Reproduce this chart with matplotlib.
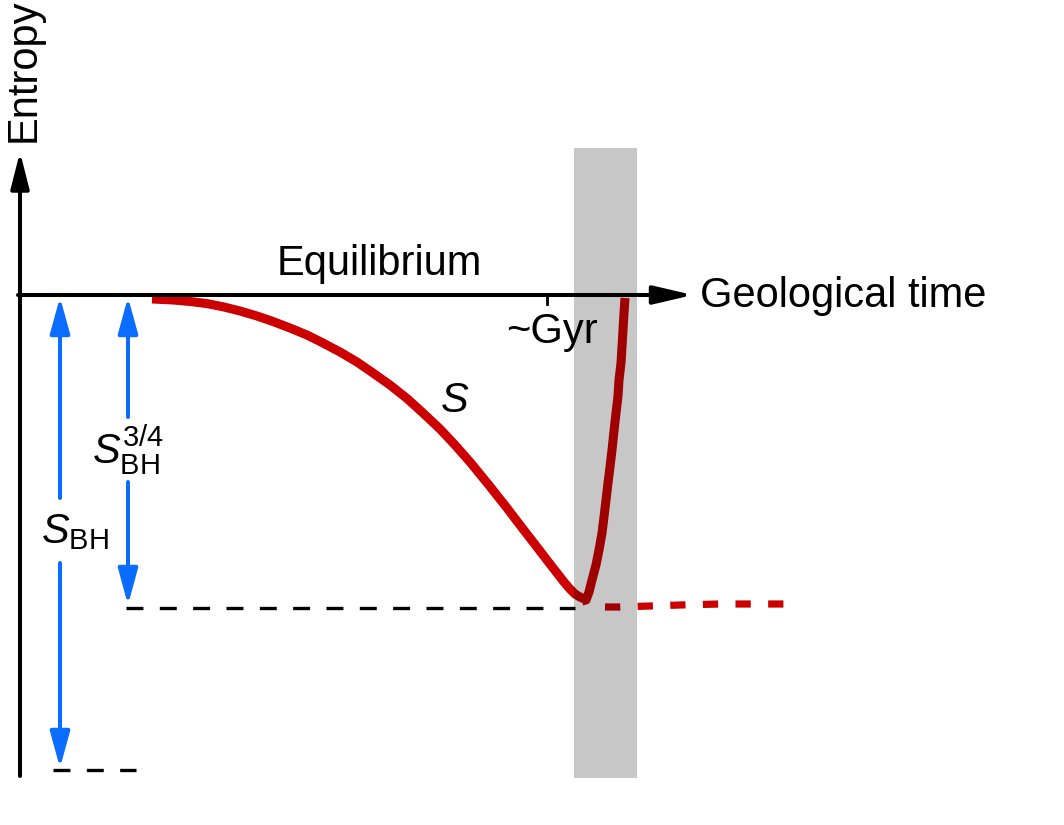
import matplotlib.pyplot as plt

plt.rcParams['font.family'] = ['Liberation Sans', 'DejaVu Sans']
plt.rcParams['mathtext.fontset'] = 'custom'
plt.rcParams['mathtext.rm'] = 'Liberation Sans'
plt.rcParams['mathtext.it'] = 'Liberation Sans:italic'
plt.rcParams['lines.scale_dashes'] = False

# schematic, coordinates in image units (x = time, y = entropy, downwards)
fall_t = [152, 173, 190, 207, 224, 240, 257, 273, 290, 307, 323, 340, 357, 373, 390, 407,
          423, 440, 455, 470, 488, 507, 523, 540, 550, 557, 564, 570, 575, 580, 584]
fall_s = [299, 300, 301.5, 303.6, 307, 311, 316, 321.5, 328, 335, 343, 352, 362, 373, 385, 398.5,
          413, 429, 445, 462, 484, 508, 529, 551, 564, 573, 582, 589, 594, 597, 599]
rise_t = [582, 586, 589, 592, 596, 599, 602, 604, 606, 608, 610, 612, 614, 616, 618, 619, 621, 622, 623, 624, 625]
rise_s = [601, 600, 592, 580, 565, 550, 533, 517, 500, 483, 467, 450, 431, 413, 396, 380, 363, 347, 330, 313, 298]
future_t = [605, 620, 650, 680, 720, 760, 790]
future_s = [607, 607, 606, 605, 604, 604, 604]

eq_level = 295          # equilibrium entropy
min_level = 608         # S_BH^{3/4} level
bh_level = 770          # S_BH level
gyr_tick = 547
band = (574, 637)

red = '#cc0000'
blue = '#0a6dff'

fig = plt.figure(figsize=(10.64, 8.25), dpi=100)
ax = fig.add_axes([0, 0, 1, 1])
ax.set_xlim(0, 1064)
ax.set_ylim(825, 0)
ax.axis('off')

# axes arrows
ax.annotate('', xy=(20, 152), xytext=(20, 776),
            arrowprops=dict(arrowstyle='-|>,head_length=22,head_width=5.6', mutation_scale=1,
                            lw=2.9, color='black', shrinkA=0, shrinkB=0))
ax.annotate('', xy=(693, eq_level), xytext=(18, eq_level),
            arrowprops=dict(arrowstyle='-|>,head_length=24,head_width=5.6', mutation_scale=1,
                            lw=2.9, color='black', shrinkA=0, shrinkB=0))
ax.plot([gyr_tick, gyr_tick], [eq_level, 304], color='black', lw=2)

# reference levels
ax.plot([126, 575], [min_level, min_level], color='black', lw=2.4, dashes=(12.2, 11.8))
ax.plot([53, 136], [bh_level, bh_level], color='black', lw=2.4, dashes=(12.2, 11.8))

# entropy curve
ax.plot(fall_t, fall_s, color=red, lw=6.5, solid_capstyle='butt', solid_joinstyle='round')
ax.plot(rise_t, rise_s, color=red, lw=6.5, solid_capstyle='butt', solid_joinstyle='round')
ax.plot(future_t, future_s, color=red, lw=5.2, dashes=(11, 12.5), dash_capstyle='butt')

# grey band
ax.fill_betweenx([148, 778], band[0], band[1], color='black', alpha=0.22, lw=0, zorder=5)

# blue arrows
def blue_arrow(x, y0, y1):
    ax.annotate('', xy=(x, y1), xytext=(x, y0),
                arrowprops=dict(arrowstyle='-|>,head_length=22,head_width=6', mutation_scale=1,
                                lw=2.9, color=blue, shrinkA=0, shrinkB=0))

blue_arrow(60, 498, 297)
blue_arrow(60, 563, 768)
blue_arrow(128, 417, 297)
blue_arrow(128, 482, 605)

# labels
fs = 30
ax.text(35, 70, 'Entropy', rotation=90, rotation_mode='anchor', ha='center', va='baseline', fontsize=fs)
ax.text(379, 275, 'Equilibrium', ha='center', va='baseline', fontsize=fs)
ax.text(700, 307, 'Geological time', ha='left', va='baseline', fontsize=fs)
ax.text(552, 343, '~Gyr', ha='center', va='baseline', fontsize=fs)
ax.text(455, 412, '$S$', ha='center', va='baseline', fontsize=fs)
ax.text(75, 543, r'$S_{\mathrm{BH}}$', ha='center', va='baseline', fontsize=fs)
ax.text(128, 463, r'$S_{\mathrm{BH}}^{\mathrm{3/4}}$', ha='center', va='baseline', fontsize=fs)

fig.savefig('out.png', dpi=100)
